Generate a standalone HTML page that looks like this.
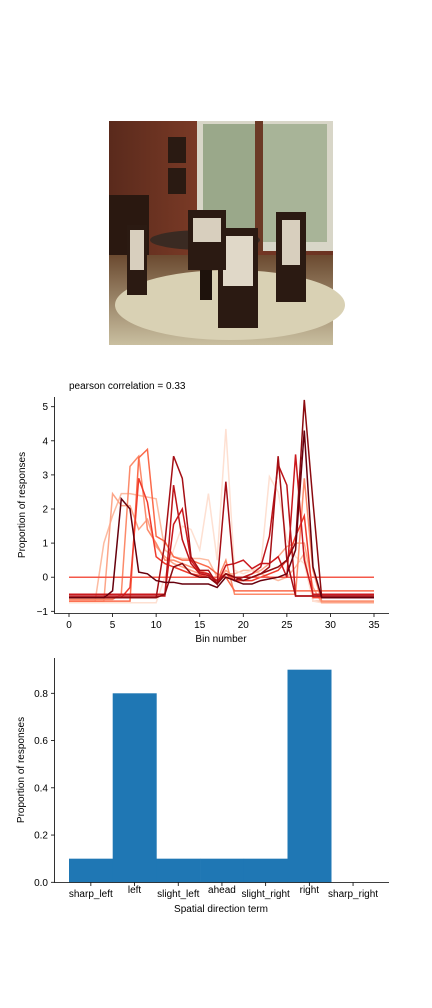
<!DOCTYPE html>
<html><head><meta charset="utf-8"><style>
body{margin:0;background:#fff;width:432px;height:1008px;overflow:hidden;font-family:"Liberation Sans","DejaVu Sans",sans-serif}
svg{display:block}
</style></head><body>
<svg width="432" height="1008" xmlns="http://www.w3.org/2000/svg" font-family="'Liberation Sans','DejaVu Sans',sans-serif">
<defs>
<linearGradient id="wall" x1="0" y1="0" x2="1" y2="0"><stop offset="0" stop-color="#5a2a1c"/><stop offset="0.4" stop-color="#7a3a26"/><stop offset="1" stop-color="#6b3322"/></linearGradient>
<linearGradient id="floor" x1="0" y1="0" x2="0" y2="1"><stop offset="0" stop-color="#6b4a30"/><stop offset="1" stop-color="#c9bfa0"/></linearGradient>
</defs>
<g>
<rect x="109" y="121" width="224" height="224" fill="url(#wall)"/>
<rect x="197" y="121" width="136" height="130" fill="#d8d6c8"/>
<rect x="203" y="124" width="52" height="120" fill="#9aa88a"/>
<rect x="263" y="124" width="64" height="118" fill="#a8b498"/>
<rect x="255" y="121" width="8" height="130" fill="#6b3a26"/>
<rect x="109" y="255" width="224" height="90" fill="url(#floor)"/>
<ellipse cx="230" cy="305" rx="115" ry="35" fill="#d9d1b4"/>
<rect x="168" y="137" width="18" height="26" fill="#2a1a12"/><rect x="168" y="168" width="18" height="26" fill="#2a1a12"/>
<rect x="109" y="195" width="40" height="60" fill="#2a1810"/>
<ellipse cx="205" cy="240" rx="55" ry="10" fill="#3a2a22"/>
<rect x="200" y="240" width="12" height="60" fill="#1e120c"/>
<rect x="127" y="225" width="20" height="70" fill="#2b1a12"/><rect x="130" y="230" width="14" height="40" fill="#d8cfbe"/>
<rect x="218" y="228" width="40" height="100" fill="#2b1a12"/><rect x="223" y="236" width="30" height="50" fill="#e0d8c8"/>
<rect x="276" y="212" width="30" height="90" fill="#2b1a12"/><rect x="282" y="220" width="18" height="45" fill="#d8cfbe"/>
<rect x="188" y="210" width="38" height="60" fill="#2b1a12"/><rect x="193" y="218" width="28" height="24" fill="#d8cfbe"/>
</g>
<text x="69" y="389" font-size="10" fill="#000">pearson correlation = 0.33</text>
<g id="line-chart"></g>
<g id="bar-chart"></g>
</svg>
<script>
const bins = Array.from({length:36},(_, i)=>i);
const seriesA = [-0.6,-0.6,-0.6,-0.6,-0.6,-0.4,2.3,2.0,0.15,0.1,-0.1,-0.15,-0.15,-0.2,-0.2,-0.2,-0.2,-0.3,0,-0.1,-0.2,-0.2,-0.1,-0.05,0,0.1,0.8,4.3,0.3,-0.6,-0.6,-0.6,-0.6,-0.6,-0.6,-0.6];
const seriesB = [-0.6,-0.6,-0.6,-0.6,-0.6,-0.6,-0.6,-0.6,-0.6,-0.6,-0.6,1.0,3.55,2.9,0.6,0.2,0.2,-0.2,2.8,-0.1,0,0,0.1,0.3,3.55,0.5,-0.55,-0.55,-0.55,-0.55,-0.55,-0.55,-0.55,-0.55,-0.55,-0.55];
const seriesC = [-0.55,-0.55,-0.55,-0.55,-0.55,-0.55,-0.55,-0.55,-0.55,-0.55,-0.55,-0.55,2.7,1.1,0.4,0.1,0.05,-0.1,0.1,0,0,0.1,0.3,1.2,3.3,2.7,-0.55,-0.55,-0.55,-0.55,-0.55,-0.55,-0.55,-0.55,-0.55,-0.55];
const seriesD = [-0.5,-0.5,-0.5,-0.5,-0.5,-0.5,-0.5,-0.5,-0.5,-0.5,-0.5,-0.5,1.55,2.0,0.5,0.15,0.1,-0.2,0.35,0.4,0.5,0.25,0.4,0.4,0.6,0,3.6,0.5,-0.5,-0.5,-0.5,-0.5,-0.5,-0.5,-0.5,-0.5];
const seriesE = [-0.6,-0.6,-0.6,-0.6,-0.6,-0.6,-0.6,-0.6,-0.6,-0.6,-0.6,-0.5,0.3,0.4,0.1,0,0,-0.2,0.1,0,-0.1,0,0.1,0.2,0.3,0.5,1.0,5.2,2.2,-0.6,-0.6,-0.6,-0.6,-0.6,-0.6,-0.6];
const seriesF = [0,0,0,0,0,0,0,0,0,0,0,0,0,0,0,0,0,0,0,0,0,0,0,0,0,0,0,0,0,0,0,0,0,0,0,0];
const seriesG = [-0.6,-0.6,-0.6,-0.6,-0.6,-0.6,-0.6,-0.3,2.9,2.2,0.6,0.4,0.3,0.2,0.1,0.05,0,-0.2,0.1,-0.1,-0.1,-0.1,0,0.1,0.2,0.5,1.2,1.8,-0.6,-0.6,-0.6,-0.6,-0.6,-0.6,-0.6,-0.6];
const seriesH = [-0.65,-0.65,-0.65,-0.65,-0.65,-0.65,-0.5,3.25,3.55,1.4,1.0,0.5,0.5,0.4,0.3,0.2,0.1,-0.1,0.5,-0.5,-0.5,-0.5,-0.5,-0.5,-0.5,-0.5,-0.5,2.9,0.2,-0.7,-0.7,-0.7,-0.7,-0.7,-0.7,-0.7];
const seriesI = [-0.7,-0.7,-0.7,-0.7,-0.7,2.45,2.1,2.1,1.4,1.7,0.9,0.6,0.4,0.3,0.2,0.1,0.1,-0.1,0.2,0,0,0.1,0.2,0.4,0.6,0.9,1.0,1.0,-0.3,-0.75,-0.75,-0.75,-0.75,-0.75,-0.75,-0.75];
const seriesJ = [-0.75,-0.75,-0.75,-0.75,-0.75,-0.75,-0.75,-0.75,-0.75,-0.75,-0.75,0,0.8,1.5,1.4,0.8,2.45,0.5,4.35,0.2,0.1,0.2,0.3,2.95,2.5,1.1,0.6,0.4,-0.7,-0.75,-0.75,-0.75,-0.75,-0.75,-0.75,-0.75];
const seriesK = [-0.7,-0.7,-0.7,-0.7,-0.7,-0.7,-0.7,-0.7,3.5,3.75,1.2,1.05,0.6,0.5,0.5,0.4,0.3,0.1,0,-0.4,-0.4,-0.4,-0.4,-0.4,-0.4,-0.4,-0.4,-0.4,-0.4,-0.4,-0.4,-0.4,-0.4,-0.4,-0.4,-0.4];
const seriesL = [-0.7,-0.7,-0.7,-0.7,1.0,1.8,2.45,2.45,2.4,2.35,2.3,0.8,0.6,0.55,0.55,0.55,0.5,0,0.1,0.1,0.2,0.2,0.1,0,-0.1,0,0.3,0.7,-0.7,-0.7,-0.7,-0.7,-0.7,-0.7,-0.7,-0.7];
const lineSeries = [seriesL,seriesJ,seriesI,seriesH,seriesK,seriesG,seriesF,seriesD,seriesC,seriesB,seriesE,seriesA];
const lineColors = ["#fcbba1","#fee0d2","#fca588","#fc8a6a","#fb6a4a","#ef3b2c","#f4584a","#cb181d","#bd1419","#a50f15","#8b0b10","#67000d"];
const xTicks = [0,5,10,15,20,25,30,35];
const yTicks = [-1,0,1,2,3,4,5];

const categories = ["sharp_left","left","slight_left","ahead","slight_right","right","sharp_right"];
const barValues = [0.1,0.8,0.1,0.1,0.1,0.9,0];
const barTicks = [0.0,0.2,0.4,0.6,0.8];

const NS="http://www.w3.org/2000/svg";
function mk(tag, attrs, parent){const e=document.createElementNS(NS,tag);for(const k in attrs)e.setAttribute(k,attrs[k]);parent.appendChild(e);return e;}

// line chart
const lc=document.getElementById('line-chart');
const lx=v=>69+v*(374-69)/35;
const ly=v=>611.3-(v+1)*(611.3-406.7)/6;
lineSeries.forEach((s,i)=>{
  const p=mk('polyline',{points:s.map((v,j)=>lx(bins[j])+','+ly(v)).join(' '),fill:'none',stroke:lineColors[i],'stroke-width':1.5},lc);
  
  
});
let ax=mk('path',{d:'M54.5 397V613.5H389',fill:'none',stroke:'#000','stroke-width':0.8},lc);


xTicks.forEach(t=>{
  mk('line',{x1:lx(t),x2:lx(t),y1:613.5,y2:617,stroke:'#000','stroke-width':0.8},lc);
  const tx=mk('text',{x:lx(t),y:628,'font-size':10,'text-anchor':'middle'},lc);tx.textContent=t;
  
  
});
yTicks.forEach(t=>{
  mk('line',{x1:51,x2:54.5,y1:ly(t),y2:ly(t),stroke:'#000','stroke-width':0.8},lc);
  const tx=mk('text',{x:48,y:ly(t)+3.5,'font-size':10,'text-anchor':'end'},lc);tx.textContent=t<0?'\u22121':t;
  
  
});
let t1=mk('text',{x:221,y:642,'font-size':10,'text-anchor':'middle'},lc);t1.textContent='Bin number';


let t2=mk('text',{x:25,y:505,'font-size':10,'text-anchor':'middle',transform:'rotate(-90 25 505)'},lc);t2.textContent='Proportion of responses';



// bar chart
const bc=document.getElementById('bar-chart');
const bw=43.7;
const bx=i=>69+i*bw;
const by=v=>882.3-v*(882.3-693.3)/0.8;
categories.forEach((c,i)=>{
  const r=mk('rect',{x:bx(i),y:by(barValues[i]),width:bw+0.3,height:882.3-by(barValues[i]),fill:'#1f77b4'},bc);
  
  
  mk('line',{x1:bx(i)+bw/2,x2:bx(i)+bw/2,y1:882.5,y2:886,stroke:'#000','stroke-width':0.8},bc);
  const tx=mk('text',{x:bx(i)+bw/2,y:(i%2?893:897),'font-size':10,'text-anchor':'middle'},bc);tx.textContent=c;
  
  
});
let ax2=mk('path',{d:'M54.5 658V882.5H389',fill:'none',stroke:'#000','stroke-width':0.8},bc);


barTicks.forEach(t=>{
  mk('line',{x1:51,x2:54.5,y1:by(t),y2:by(t),stroke:'#000','stroke-width':0.8},bc);
  const tx=mk('text',{x:48,y:by(t)+3.5,'font-size':10,'text-anchor':'end'},bc);tx.textContent=t.toFixed(1);
  
  
});
let t3=mk('text',{x:221,y:912,'font-size':10,'text-anchor':'middle'},bc);t3.textContent='Spatial direction term';


let t4=mk('text',{x:24,y:770,'font-size':10,'text-anchor':'middle',transform:'rotate(-90 24 770)'},bc);t4.textContent='Proportion of responses';


</script>
</body></html>
